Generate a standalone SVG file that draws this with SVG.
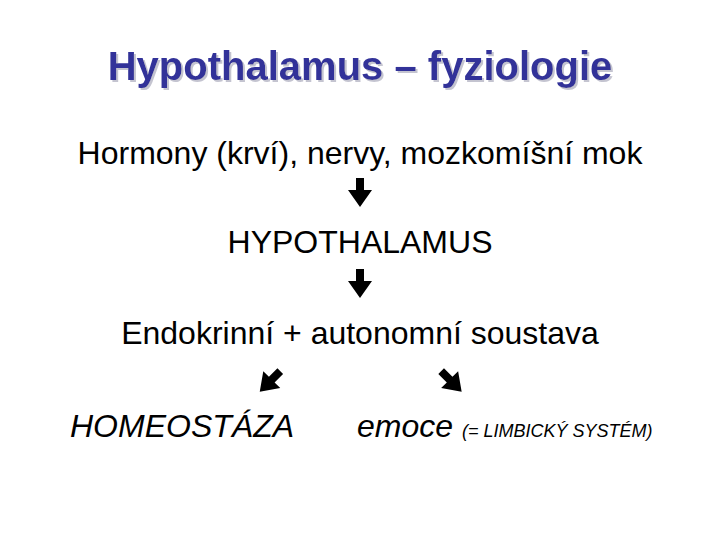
<svg xmlns="http://www.w3.org/2000/svg" width="720" height="540" viewBox="0 0 720 540">
<style>
.title{font-family:"Liberation Sans",Arial,sans-serif;font-weight:bold;font-size:40px;text-anchor:middle;fill:#333399}
.body{font-family:"Liberation Sans",Arial,sans-serif;font-size:32px;fill:#000;text-anchor:middle}
.it{font-family:"Liberation Sans",Arial,sans-serif;font-style:italic;fill:#000}
.arr{fill:#000}
</style>
<defs>
<filter id="shadow" x="-5%" y="-20%" width="110%" height="140%">
<feOffset in="SourceAlpha" dx="2" dy="2" result="off"/>
<feFlood flood-color="#c4c4d0"/>
<feComposite in2="off" operator="in" result="sh"/>
<feMerge><feMergeNode in="sh"/><feMergeNode in="SourceGraphic"/></feMerge>
</filter>
<path id="arrow" d="M-4,-14.5 H4 V-2.5 H12 L0,14.5 L-12,-2.5 H-4 Z"/>
</defs>
<rect width="720" height="540" fill="#fff"/>
<g id="title">
<text class="title" x="360" y="80" filter="url(#shadow)">Hypothalamus – fyziologie</text>
</g>
<g id="inputs"><text class="body" x="360" y="164">Hormony (krví), nervy, mozkomíšní mok</text></g>
<g id="hypothalamus"><text class="body" x="360" y="253">HYPOTHALAMUS</text></g>
<g id="endokrinni"><text class="body" x="360" y="344">Endokrinní + autonomní soustava</text></g>
<g id="homeostaza"><text class="it" x="70" y="437" font-size="32">HOMEOSTÁZA</text></g>
<g id="emoce"><text class="it" x="357" y="437" font-size="32">emoce <tspan font-size="18">(= LIMBICKÝ SYSTÉM)</tspan></text></g>
<g id="connectors" class="arr">
<use href="#arrow" transform="translate(360,192.5)"/>
<use href="#arrow" transform="translate(360,283.5)"/>
<use href="#arrow" transform="translate(270,381.4) rotate(45)"/>
<use href="#arrow" transform="translate(451.4,381.4) rotate(-45)"/>
</g>
</svg>
